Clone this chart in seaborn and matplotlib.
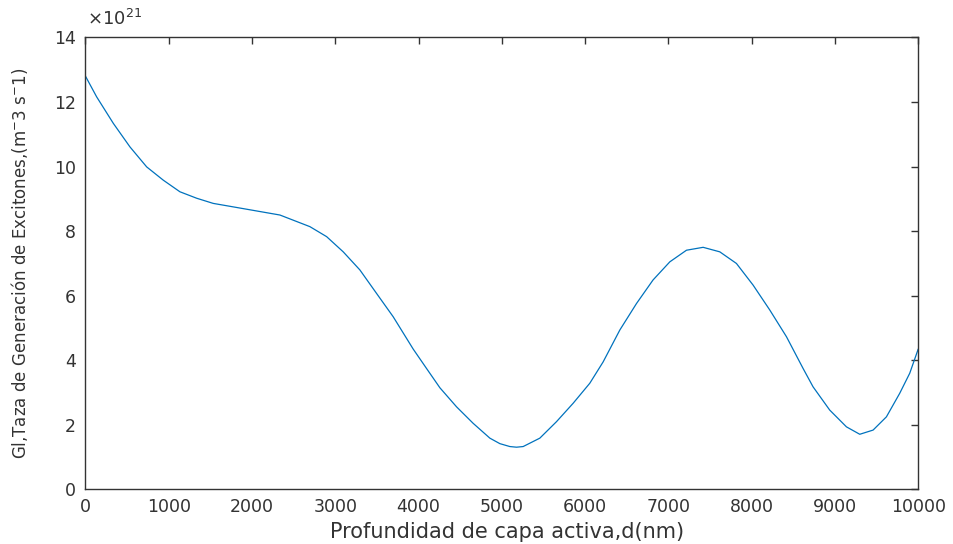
import matplotlib
matplotlib.use("Agg")
import matplotlib.pyplot as plt
import seaborn as sns
import pandas as pd

# Depth of active layer (nm) and exciton generation rate (x1e21 m^-3 s^-1)
depth_nm = [0, 134, 334, 534, 735, 934, 1134, 1335, 1534, 1735, 1935, 2135,
            2335, 2535, 2695, 2896, 3095, 3295, 3496, 3695, 3935, 4095, 4256,
            4456, 4655, 4856, 4976, 5096, 5176, 5256, 5456, 5656, 5856, 6056,
            6216, 6417, 6617, 6816, 7017, 7217, 7417, 7617, 7817, 8017, 8217,
            8418, 8617, 8737, 8937, 9138, 9298, 9458, 9618, 9778, 9898, 10000]
rate_e21 = [12.80, 12.16, 11.34, 10.61, 9.99, 9.58, 9.22, 9.02, 8.86, 8.77,
            8.68, 8.59, 8.50, 8.30, 8.14, 7.83, 7.36, 6.80, 6.07, 5.35, 4.35,
            3.75, 3.15, 2.56, 2.05, 1.59, 1.42, 1.33, 1.31, 1.33, 1.59, 2.10,
            2.67, 3.29, 3.95, 4.94, 5.76, 6.49, 7.05, 7.41, 7.50, 7.36, 7.00,
            6.33, 5.56, 4.73, 3.75, 3.18, 2.46, 1.94, 1.71, 1.84, 2.25, 2.98,
            3.60, 4.35]

x_ticks = [0, 1000, 2000, 3000, 4000, 5000, 6000, 7000, 8000, 9000, 10000]
y_ticks = [0, 2, 4, 6, 8, 10, 12, 14]

xlabel = "Profundidad de capa activa,d(nm)"
ylabel = r"Gl,Taza de Generación de Excitones,(m$^{-}$3 s$^{-}$1)"

sns.set_style("white")
plt.rcParams['font.family'] = ['DejaVu Sans']
plt.rcParams['mathtext.fontset'] = 'dejavusans'

text_color = '#333333'
fig = plt.figure(figsize=(9.54, 5.44), dpi=100)
ax = fig.add_axes([0.0896, 0.1002, 0.8729, 0.831])

df = pd.DataFrame({"d": depth_nm, "G": rate_e21})
sns.lineplot(data=df, x="d", y="G", ax=ax, color='#0072BD', linewidth=0.9)

ax.set_xlim(0, 10000)
ax.set_ylim(0, 14)
ax.set_xticks(x_ticks)
ax.set_yticks(y_ticks)
ax.set_xticklabels([str(v) for v in x_ticks])
ax.set_yticklabels([str(v) for v in y_ticks])
ax.tick_params(direction='in', top=True, right=True, length=5, width=1.0,
               colors=text_color, labelsize=12.5)
ax.tick_params(axis='x', pad=6)
ax.tick_params(axis='y', pad=7)
for s in ax.spines.values():
    s.set_visible(True)
    s.set_color('#333333')
    s.set_linewidth(1.0)

ax.set_xlabel(xlabel, fontsize=15, color=text_color)
ax.xaxis.set_label_coords(0.506, -0.072)
ax.set_ylabel(ylabel, fontsize=12, color=text_color)
ax.yaxis.set_label_coords(-0.067, 0.5)

ax.text(0.002, 1.018, r"$\times10^{21}$", transform=ax.transAxes, fontsize=13,
        color=text_color, ha='left', va='bottom')

fig.savefig("out.png", dpi=100)
